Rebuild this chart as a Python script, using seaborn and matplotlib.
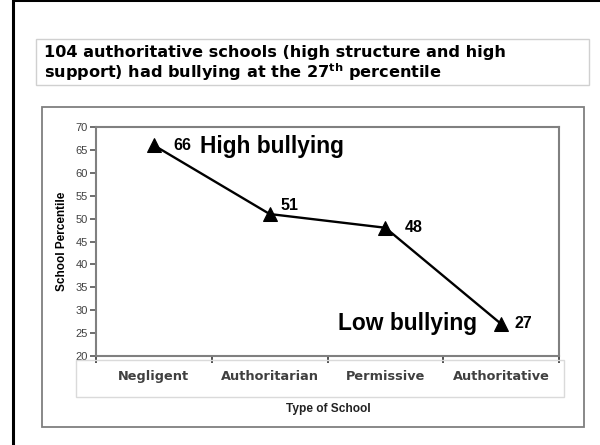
import matplotlib
matplotlib.use("Agg")
import matplotlib.pyplot as plt
import matplotlib.patches as mpatches
import seaborn as sns
import pandas as pd

categories = ["Negligent", "Authoritarian", "Permissive", "Authoritative"]
percentiles = [66, 51, 48, 27]
y_ticks = [20, 25, 30, 35, 40, 45, 50, 55, 60, 65, 70]
title_line1 = "104 authoritative schools (high structure and high"
title_line2 = r"support) had bullying at the 27$^{\mathbf{th}}$ percentile"
x_label = "Type of School"
y_label = "School Percentile"
high_note = "High bullying"
low_note = "Low bullying"

sns.set_theme(style="white")
plt.rcParams["mathtext.fontset"] = "dejavusans"
plt.rcParams["font.family"] = ["DejaVu Sans"]

W, H = 600, 445
fig = plt.figure(figsize=(6.0, 4.45), dpi=100)
fig.patch.set_facecolor("white")

def fx(px):
    return px / W

def fy(py):
    return 1 - py / H

# Outer black frame (clipped at right/bottom)
fig.add_artist(mpatches.Rectangle((fx(13), fy(460)), fx(600), 460 / H,
                                  fill=False, edgecolor="black", linewidth=2.2,
                                  transform=fig.transFigure))
# Title box
fig.add_artist(mpatches.Rectangle((fx(36), fy(85)), fx(589 - 36), (85 - 39) / H,
                                  fill=False, edgecolor="#d0d0d0", linewidth=1.0,
                                  transform=fig.transFigure))
fig.text(fx(44), fy(53), title_line1, fontsize=11.6, fontweight="bold",
         family="DejaVu Sans", ha="left", va="center", color="black")
fig.text(fx(44), fy(72.5), title_line2, fontsize=11.6, fontweight="bold",
         family="DejaVu Sans", ha="left", va="center", color="black")

# Chart box
fig.add_artist(mpatches.Rectangle((fx(42), fy(427)), fx(584 - 42), (427 - 107) / H,
                                  fill=False, edgecolor="#7f7f7f", linewidth=1.3,
                                  transform=fig.transFigure))
# Category label box
fig.add_artist(mpatches.Rectangle((fx(76), fy(397)), fx(564 - 76), (397 - 360) / H,
                                  fill=False, edgecolor="#dadada", linewidth=1.0,
                                  transform=fig.transFigure))

ax = fig.add_axes([fx(96), fy(356), fx(559 - 96), (356 - 127) / H])
df = pd.DataFrame({"type": categories, "pct": percentiles})
sns.lineplot(data=df, x="type", y="pct", ax=ax, color="black", linewidth=1.7,
             marker="^", markersize=10, markeredgecolor="black", sort=False)

ax.set_xlim(-0.5, len(categories) - 0.5)
ax.set_ylim(y_ticks[0], y_ticks[-1])
ax.set_yticks(y_ticks)
ax.set_yticklabels([str(t) for t in y_ticks], family="Liberation Sans",
                   fontsize=8, color="#404040")
ax.set_xticks(range(len(categories)))
ax.set_xticklabels(categories, family="DejaVu Sans", fontweight="bold",
                   fontsize=9.3, color="#404040")
ax.set_xticks([i - 0.5 for i in range(len(categories) + 1)], minor=True)
ax.tick_params(axis="x", which="major", length=0, pad=10)
ax.tick_params(axis="x", which="minor", length=5, width=1.3, color="#444444",
               direction="out", bottom=True)
ax.tick_params(axis="y", length=4, width=1.2, color="#555555", direction="out",
               left=True, pad=2)
for s in ax.spines.values():
    s.set_color("#808080")
    s.set_linewidth(1.5)
ax.set_xlabel("")
ax.set_ylabel(y_label, family="Liberation Sans", fontweight="bold",
              fontsize=8.5, color="black", labelpad=5)
ax.grid(False)

fig.text(fx(328), fy(409), x_label, family="Liberation Sans", fontweight="bold",
         fontsize=8.6, ha="center", va="center", color="#222222")

# Data labels
offsets = [(19, 0), (11, 9), (19, 0), (13, 0)]
for i, (v, off) in enumerate(zip(percentiles, offsets)):
    ax.annotate(str(v), (i, v), xytext=off, textcoords="offset pixels",
                ha="left", va="center", fontsize=11.5, fontweight="bold",
                family="Liberation Sans", color="black")

ax.annotate(high_note, (0, percentiles[0]), xytext=(46, -1),
            textcoords="offset pixels", ha="left", va="center", fontsize=16.4,
            fontweight="bold", family="Liberation Sans", color="black")
ax.annotate(low_note, (3, percentiles[3]), xytext=(-24, 0),
            textcoords="offset pixels", ha="right", va="center", fontsize=16.4,
            fontweight="bold", family="Liberation Sans", color="black")

fig.savefig("out.png", dpi=100, facecolor="white")
